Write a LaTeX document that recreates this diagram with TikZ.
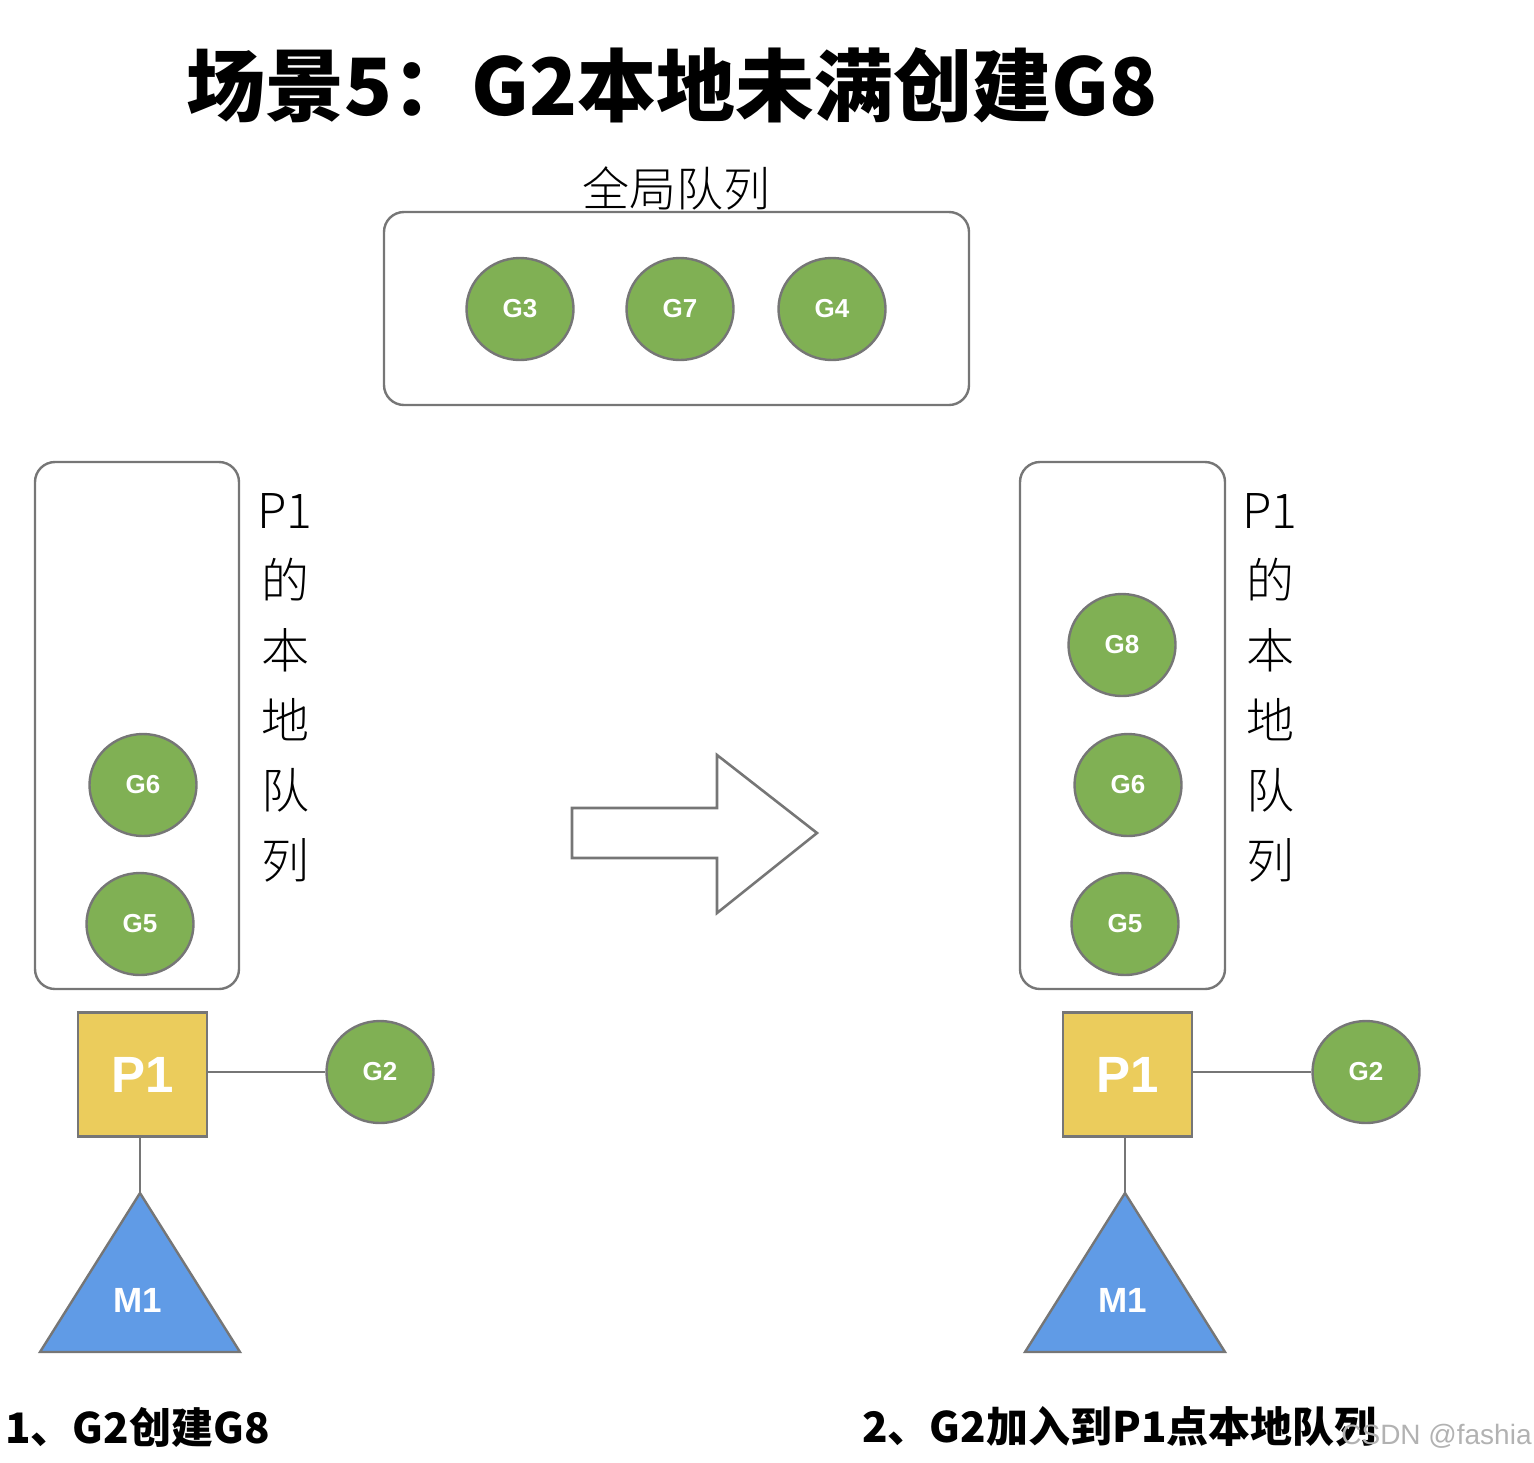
\documentclass[tikz,border=0pt]{standalone}
\usepackage{fontspec}
\setmainfont{Liberation Sans}
\newfontfamily\cjk{Noto Sans CJK SC}
\newfontfamily\cjkthin{Noto Sans CJK SC Light}
\usetikzlibrary{shapes.geometric}

\definecolor{gfill}{RGB}{128,176,84}
\definecolor{edgegray}{RGB}{118,118,118}
\definecolor{pfill}{RGB}{235,204,92}
\definecolor{mfill}{RGB}{96,155,230}

\tikzset{
  gnode/.style={ellipse, draw=edgegray, line width=1.2pt, fill=gfill, minimum width=53.5pt, minimum height=51pt, inner sep=0pt, text=white, font=\bfseries\fontsize{13}{13}\selectfont},
  pnode/.style={rectangle, draw=edgegray, line width=1.2pt, fill=pfill, minimum width=64.5pt, minimum height=62pt, inner sep=0pt, text=white, font=\bfseries\fontsize{25.5}{25.5}\selectfont},
  mtri/.style={draw=edgegray, line width=1.2pt, fill=mfill},
  queue/.style={draw=edgegray, line width=1.2pt, rounded corners=10pt},
  link/.style={draw=edgegray, line width=1pt},
  vlabel/.style={align=center, font=\cjkthin\fontsize{24}{35}\selectfont},
  caption/.style={anchor=west, inner sep=0pt, font=\cjk\bfseries\fontsize{21}{21}\selectfont},
}

\begin{document}
\begin{tikzpicture}[x=0.5pt, y=-0.5pt]
    \useasboundingbox (0, 0) rectangle (1534, 1462);

    \node [font=\cjk\bfseries\fontsize{39.5}{39.5}\selectfont] (title) at (672, 85) {场景5：G2本地未满创建G8};

    % global queue
    \node [font=\cjkthin\fontsize{23.5}{23.5}\selectfont] (globallbl) at (676, 188) {全局队列};
    \draw [queue] (384, 212) rectangle (969, 405);
    \node [gnode] (g3) at (520, 309) {G3};
    \node [gnode] (g7) at (680, 309) {G7};
    \node [gnode] (g4) at (832, 309) {G4};

    % before
    \draw [queue] (35, 462) rectangle (239, 989);
    \node [vlabel] (locallbla) at (285, 688) {P1\\的\\本\\地\\队\\列};
    \node [gnode] (g6a) at (143, 785) {G6};
    \node [gnode] (g5a) at (140, 924) {G5};
    \node [pnode] (p1a) at (142.5, 1074.5) {P1};
    \node [gnode] (g2a) at (380, 1072) {G2};
    \coordinate (m1topa) at (140, 1193);
    \draw [mtri] (m1topa) -- (240, 1352) -- (40, 1352) -- cycle;
    \node [text=white, font=\bfseries\fontsize{17.5}{17.5}\selectfont] (m1a) at (138, 1300) {M1};
    \draw [link] (g2a.west -| p1a.east) -- (g2a.west);
    \draw [link] (p1a.south -| m1topa) -- (m1topa);

    % big arrow
    \draw [draw=edgegray, line width=1.3pt] (572, 808) -- (717, 808) -- (717, 755) -- (817, 833) -- (717, 913) -- (717, 858) -- (572, 858) -- cycle;

    % after
    \draw [queue] (1020, 462) rectangle (1225, 989);
    \node [vlabel] (locallblb) at (1270, 688) {P1\\的\\本\\地\\队\\列};
    \node [gnode] (g8b) at (1122, 645) {G8};
    \node [gnode] (g6b) at (1128, 785) {G6};
    \node [gnode] (g5b) at (1125, 924) {G5};
    \node [pnode] (p1b) at (1127.5, 1074.5) {P1};
    \node [gnode] (g2b) at (1366, 1072) {G2};
    \coordinate (m1topb) at (1125, 1193);
    \draw [mtri] (m1topb) -- (1225, 1352) -- (1025, 1352) -- cycle;
    \node [text=white, font=\bfseries\fontsize{17.5}{17.5}\selectfont] (m1b) at (1123, 1300) {M1};
    \draw [link] (g2b.west -| p1b.east) -- (g2b.west);
    \draw [link] (p1b.south -| m1topb) -- (m1topb);

    % captions
    \node [caption] (capa) at (5, 1427) {1、G2创建G8};
    \node [caption] (capb) at (862, 1427) {2、G2加入到P1点本地队列};
    \node [anchor=east, inner sep=0pt, text=black!30, font=\fontsize{14}{14}\selectfont] (mark) at (1532, 1436) {CSDN @fashia};
\end{tikzpicture}
\end{document}
